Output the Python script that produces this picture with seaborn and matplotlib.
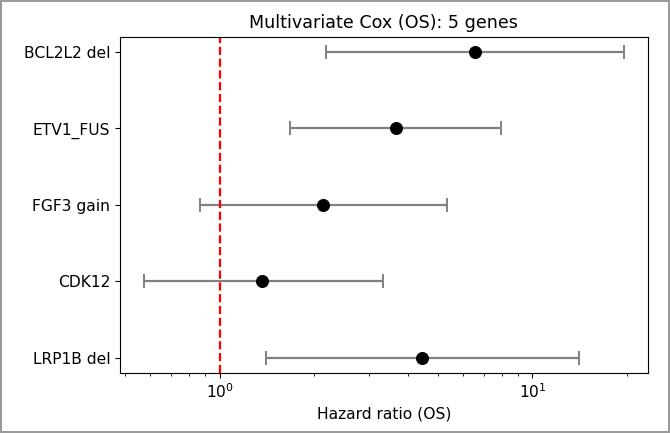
import numpy as np
import pandas as pd
import matplotlib
matplotlib.use("Agg")
import matplotlib.pyplot as plt
import seaborn as sns

genes = ["BCL2L2 del", "ETV1_FUS", "FGF3 gain", "CDK12", "LRP1B del"]
hr = [6.53, 3.66, 2.14, 1.37, 4.43]
ci_low = [2.19, 1.68, 0.863, 0.573, 1.41]
ci_high = [19.6, 7.91, 5.32, 3.33, 14.1]

df = pd.DataFrame({"gene": genes, "hr": hr, "lo": ci_low, "hi": ci_high})
df["pos"] = np.arange(len(df))[::-1]

fig = plt.figure(figsize=(6.7, 4.33), dpi=100, edgecolor="#9a9a9a", linewidth=1.5)
ax = fig.add_axes([0.179, 0.139, 0.788, 0.776])

ax.errorbar(df["hr"], df["pos"],
            xerr=[df["hr"] - df["lo"], df["hi"] - df["hr"]],
            fmt="none", ecolor="gray", elinewidth=1.6, capsize=5, capthick=1.4)
sns.scatterplot(data=df, x="hr", y="pos", color="black", s=75, zorder=3,
                edgecolor="black", ax=ax)
ax.axvline(1, color="red", linestyle="--", linewidth=1.6)

ax.set_xscale("log")
ax.set_yticks(df["pos"])
ax.set_yticklabels(df["gene"], fontsize=11.2)
ax.tick_params(axis="x", labelsize=11.2)
ax.set_xlabel("Hazard ratio (OS)", fontsize=11.2)
ax.set_ylabel("")
ax.set_title("Multivariate Cox (OS): 5 genes", fontsize=12.6)

fig.savefig("out.png", dpi=100)
